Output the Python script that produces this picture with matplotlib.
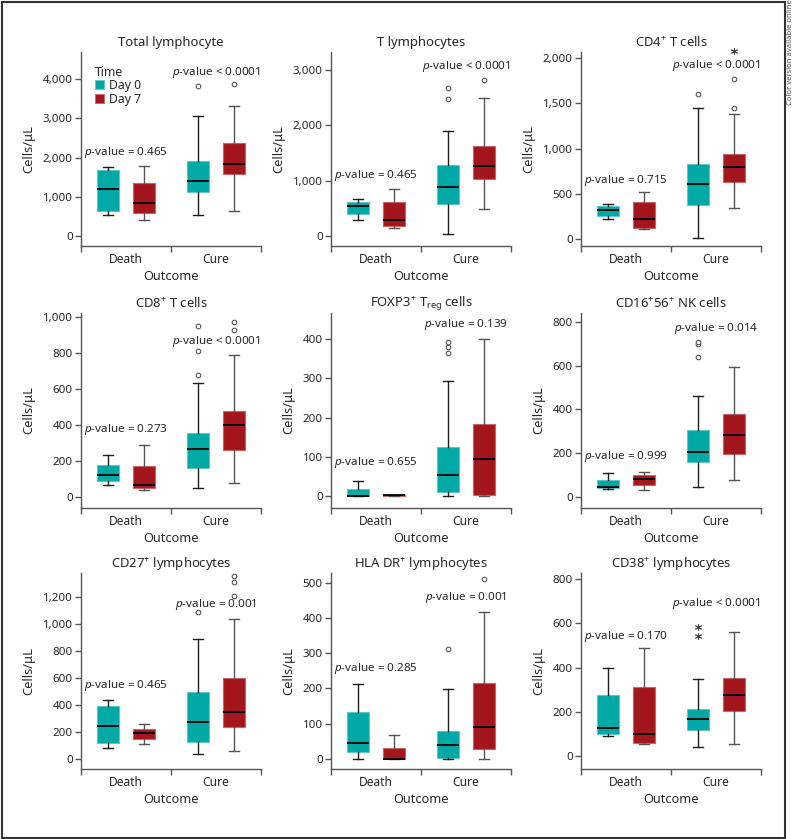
import matplotlib
matplotlib.use("Agg")
import matplotlib.pyplot as plt
from matplotlib.patches import Patch, Rectangle

plt.rcParams['font.family'] = ['Noto Sans', 'DejaVu Sans']
plt.rcParams['mathtext.fontset'] = 'custom'
plt.rcParams['mathtext.rm'] = 'Noto Sans'
plt.rcParams['mathtext.it'] = 'Noto Sans:italic'
plt.rcParams['mathtext.bf'] = 'Noto Sans:bold'

# ---------------- data ----------------
titles = ["Total lymphocyte", "T lymphocytes", "CD4$^{+}$ T cells",
          "CD8$^{+}$ T cells", "FOXP3$^{+}$ T$_{\\mathregular{reg}}$ cells",
          "CD16$^{+}$56$^{+}$ NK cells",
          "CD27$^{+}$ lymphocytes", "HLA DR$^{+}$ lymphocytes", "CD38$^{+}$ lymphocytes"]
outcomes = ["Death", "Cure"]
times = ["Day 0", "Day 7"]
# group order in each panel: Death-Day0, Death-Day7, Cure-Day0, Cure-Day7
whisker_low = [
    [529, 401, 546, 648], [290, 151, 30, 495], [227, 110, 11, 341],
    [65, 37, 50, 78], [0, 0, 0, 0], [34, 29, 44, 76],
    [84, 111, 37, 59], [0, 0, 0, 0], [93, 56, 42, 56]]
q1 = [
    [640, 597, 1109, 1578], [404, 181, 585, 1038], [260, 125, 381, 634],
    [91, 52, 160, 263], [0, 1, 11, 4], [38, 53, 159, 195],
    [116, 151, 128, 235], [21, 0, 2, 30], [99, 60, 120, 203]]
median = [
    [1194, 853, 1390, 1825], [549, 290, 887, 1267], [319, 223, 604, 799],
    [121, 65, 269, 404], [0, 2, 53, 95], [44, 79, 206, 282],
    [247, 190, 272, 353], [45, 0, 39, 91], [126, 101, 167, 275]]
q3 = [
    [1689, 1339, 1910, 2371], [622, 610, 1285, 1623], [363, 407, 832, 934],
    [176, 171, 356, 477], [18, 3, 124, 184], [76, 98, 303, 378],
    [393, 220, 499, 605], [132, 31, 81, 215], [275, 315, 216, 354]]
whisker_high = [
    [1765, 1791, 3062, 3309], [670, 857, 1901, 2492], [392, 516, 1443, 1385],
    [234, 288, 633, 792], [39, 3, 292, 400], [110, 111, 462, 593],
    [435, 262, 891, 1037], [213, 68, 198, 416], [401, 491, 348, 560]]
outliers = [
    [[], [], [3812], [3881]],
    [[], [], [2468, 2673], [2818]],
    [[], [], [1601], [1443, 1762]],
    [[], [], [679, 816, 954], [928, 976]],
    [[], [], [364, 379, 392], []],
    [[], [], [640, 697, 706], []],
    [[], [], [1089], [1212, 1316, 1358]],
    [[], [], [313], [509]],
    [[], [], [], []]]
extremes = [
    [[], [], [], []], [[], [], [], []], [[], [], [], [2073]],
    [[], [], [], []], [[], [], [], []], [[], [], [], []],
    [[], [], [], []], [[], [], [], []], [[], [], [544, 584], []]]
p_death = ["= 0.465", "= 0.465", "= 0.715", "= 0.273", "= 0.655", "= 0.999",
           "= 0.465", "= 0.285", "= 0.170"]
p_cure = ["< 0.0001", "< 0.0001", "< 0.0001", "< 0.0001", "= 0.139", "= 0.014",
          "= 0.001", "= 0.001", "< 0.0001"]

# ---------------- layout ----------------
p_death_y = [2140, 1098, 648, 375, 86, 183, 543, 257, 541]
p_cure_y = [4178, 3072, 1908, 868, 438, 768, 1151, 459, 691]
ylims = [(-255, 4690), (-180, 3325), (-73, 2062), (-61, 1025), (-30, 466),
         (-52, 841), (-74, 1382), (-28, 527), (-57, 828)]
yticks = [[0, 1000, 2000, 3000, 4000], [0, 1000, 2000, 3000], [0, 500, 1000, 1500, 2000],
          [0, 200, 400, 600, 800, 1000], [0, 100, 200, 300, 400], [0, 200, 400, 600, 800],
          [0, 200, 400, 600, 800, 1000, 1200], [0, 100, 200, 300, 400, 500],
          [0, 200, 400, 600, 800]]

W, H = 797, 839
col_left = [81, 331, 581]
ax_w = 180
row_top = [52, 313, 573]
row_bot = [246, 508, 769]

colors = ["#00A9A6", "#A2161C"]
edge_colors = ["#5CC9C6", "#C76468"]
whisk_colors = ["#1e1e1e", "#555555"]
spine_col = "#555555"
text_col = "#262626"

fig = plt.figure(figsize=(W / 100, H / 100), dpi=100)

offs = [-0.2, 0.2]
bw = 0.245

for i in range(9):
    r, c = divmod(i, 3)
    left = col_left[c] / W
    bottom = 1 - row_bot[r] / H
    height = (row_bot[r] - row_top[r]) / H
    ax = fig.add_axes([left, bottom, ax_w / W, height])

    for g in range(4):
        oc, t = divmod(g, 2)
        pos = oc + offs[t]
        st = dict(whislo=whisker_low[i][g], q1=q1[i][g], med=median[i][g],
                  q3=q3[i][g], whishi=whisker_high[i][g], fliers=outliers[i][g])
        ax.bxp([st], positions=[pos], widths=bw, patch_artist=True,
               capwidths=0.12, manage_ticks=False,
               boxprops=dict(facecolor=colors[t], edgecolor=edge_colors[t], linewidth=0.8),
               medianprops=dict(color="black", linewidth=1.3),
               whiskerprops=dict(color=whisk_colors[t], linewidth=1.0),
               capprops=dict(color=whisk_colors[t], linewidth=1.0),
               flierprops=dict(marker='o', markersize=3.3, markerfacecolor='white',
                               markeredgecolor='#555555', markeredgewidth=0.8))
        if extremes[i][g]:
            ax.plot([pos] * len(extremes[i][g]), extremes[i][g], linestyle='none',
                    marker=(6, 2, 0), markersize=5, color='#444444',
                    markeredgewidth=0.7, clip_on=False)

    ax.text(0, p_death_y[i], r"$\mathit{p}$-value " + p_death[i], ha='center',
            va='center', fontsize=8.4, color=text_col)
    ax.text(1, p_cure_y[i], r"$\mathit{p}$-value " + p_cure[i], ha='center',
            va='center', fontsize=8.4, color=text_col)

    ax.set_xlim(-0.5, 1.5)
    ax.set_ylim(*ylims[i])
    ax.set_yticks(yticks[i])
    ax.set_yticklabels([f"{v:,}" for v in yticks[i]])
    ax.set_xticks([-0.5, 0.5, 1.5])
    ax.set_xticklabels([])
    ax.set_xticks([0, 1], minor=True)
    ax.set_xticklabels(outcomes, minor=True)
    ax.tick_params(axis='x', which='major', length=4, width=1.0, color=spine_col, direction='out')
    ax.tick_params(axis='x', which='minor', length=0, pad=5, labelsize=8.6, labelcolor=text_col)
    ax.tick_params(axis='y', length=4, width=1.0, color=spine_col, labelsize=8.3,
                   labelcolor=text_col, pad=2)
    for s in ['top', 'right']:
        ax.spines[s].set_visible(False)
    for s in ['left', 'bottom']:
        ax.spines[s].set_color(spine_col)
        ax.spines[s].set_linewidth(1.0)
    ax.set_facecolor('none')
    ax.set_title(titles[i], fontsize=9.4, color=text_col, pad=4)
    ax.set_xlabel("Outcome", fontsize=9.2, color=text_col, labelpad=3)
    ax.set_ylabel("Cells/μL", fontsize=9.2, color=text_col, labelpad=5)

    if i == 0:
        handles = [Patch(facecolor=colors[k], edgecolor=edge_colors[k], linewidth=0.6)
                   for k in range(2)]
        leg = ax.legend(handles, times, title="Time", loc='upper left',
                        bbox_to_anchor=(0.075, 0.93), frameon=False,
                        handlelength=0.75, handleheight=0.75, handletextpad=0.4,
                        labelspacing=0.05, borderpad=0, borderaxespad=0,
                        fontsize=8.8, title_fontsize=8.8, alignment='left')
        for txt in leg.get_texts():
            txt.set_color(text_col)
        leg.get_title().set_color(text_col)

# figure border and side note
fig.patches.append(Rectangle((2 / W, 1 / H), (785 - 2) / W, (837 - 1) / H,
                             transform=fig.transFigure, fill=False,
                             edgecolor='#333333', linewidth=1.5))
fig.text(791 / W, 1 - 52 / H, "Color version available online", rotation=90,
         ha='center', va='center', fontsize=5.5, color='#555555')

fig.savefig("out.png", dpi=100)
